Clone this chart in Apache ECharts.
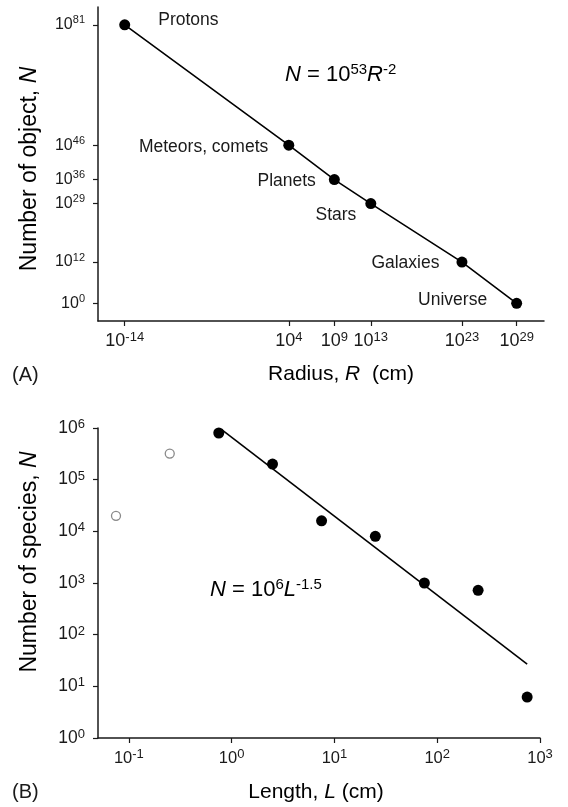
<!DOCTYPE html>
<html>
<head>
<meta charset="utf-8">
<script src="https://cdn.jsdelivr.net/npm/echarts@6/dist/echarts.min.js"></script>
<style>
  html, body { margin: 0; padding: 0; background: #fff; }
  #chart { width: 568px; height: 807px; }
</style>
</head>
<body>
<div id="chart"></div>
<script>
// panel A: objects in the universe
const objectNames = ['Protons', 'Meteors, comets', 'Planets', 'Stars', 'Galaxies', 'Universe'];
const radiusCm = [1e-14, 1e4, 1e9, 1e13, 1e23, 1e29];
const objectCount = [1e81, 1e46, 1e36, 1e29, 1e12, 1e0];
const radiusTicks = [-14, 4, 9, 13, 23, 29];   // exponents shown on the axis
const countTicks = [0, 12, 29, 36, 46, 81];

// panel B: species by body length
const lengthFilled = [0.75, 2.5, 7.5, 25, 75, 250, 750];
const speciesFilled = [8.0e5, 2.0e5, 1.6e4, 8.0e3, 1.0e3, 7.2e2, 6.2];
const lengthOpen = [0.075, 0.25];
const speciesOpen = [2.0e4, 3.2e5];
const fitLength = [0.8, 750];
const fitSpecies = [9.3e5, 27];
const lengthTicks = [-1, 0, 1, 2, 3];
const speciesTicks = [0, 1, 2, 3, 4, 5, 6];

// label placement for panel A (style, not data)
const labelPos = ['right', 'left', 'left', 'left', 'left', 'left'];
const labelOffsets = [[23, -5], [-10, 2], [-8, 2], [-4, 12], [-12, 1], [-19, -3]];

const FONT = '"Liberation Sans", Arial, Helvetica, sans-serif';
const INK = '#1a1a1a';

const log = Math.log10;
const pow10 = v => '{b|10}{s|' + v + '}';

function powRich(baseSize, supSize) {
  return {
    b: {fontSize: baseSize, fontFamily: FONT, color: INK, lineHeight: 20},
    s: {fontSize: supSize, fontFamily: FONT, color: INK, lineHeight: supSize, verticalAlign: 'top'}
  };
}

function axisBase(ticks, rich, margin) {
  return {
    type: 'value',
    splitLine: {show: false},
    axisLine: {onZero: false, lineStyle: {color: INK, width: 1.5}},
    axisTick: {customValues: ticks, length: 5, lineStyle: {color: INK, width: 1.2}},
    axisLabel: {customValues: ticks, formatter: pow10, rich: rich, margin: margin}
  };
}

const pointsA = radiusCm.map((r, i) => ({
  value: [log(r), log(objectCount[i])],
  label: {show: true, formatter: objectNames[i], position: labelPos[i], offset: labelOffsets[i]}
}));

const textRich = (size) => ({
  n: {fontSize: size, fontFamily: FONT, color: INK},
  i: {fontSize: size, fontFamily: FONT, color: INK, fontStyle: 'italic'}
});

const eqRich = (size, sup) => ({
  n: {fontSize: size, fontFamily: FONT, color: INK, lineHeight: 26},
  i: {fontSize: size, fontFamily: FONT, color: INK, fontStyle: 'italic', lineHeight: 26},
  s: {fontSize: sup, fontFamily: FONT, color: INK, lineHeight: sup, verticalAlign: 'top'}
});

const chart = echarts.init(document.getElementById('chart'));

chart.setOption({
  animation: false,
  backgroundColor: '#fff',
  grid: [
    {left: 98, right: 24, top: 7, bottom: 486},
    {left: 98, right: 28, top: 428, bottom: 69}
  ],
  xAxis: [
    Object.assign(axisBase(radiusTicks, powRich(18, 13), 10), {gridIndex: 0, min: -16.93, max: 32.0}),
    Object.assign(axisBase(lengthTicks, powRich(16.5, 13), 10), {gridIndex: 1, min: -1.3, max: 3})
  ],
  yAxis: [
    Object.assign(axisBase(countTicks, powRich(16, 11), 13), {gridIndex: 0, min: -5.15, max: 86.2}),
    Object.assign(axisBase(speciesTicks, powRich(17.5, 13), 13), {gridIndex: 1, min: 0, max: 6})
  ],
  series: [
    {
      type: 'line', xAxisIndex: 0, yAxisIndex: 0,
      data: pointsA,
      symbol: 'circle', symbolSize: 11,
      itemStyle: {color: '#000'},
      lineStyle: {color: '#000', width: 1.6},
      label: {fontSize: 17.5, fontFamily: FONT, color: INK},
      z: 3
    },
    {
      type: 'line', xAxisIndex: 1, yAxisIndex: 1,
      data: fitLength.map((l, i) => [log(l), log(fitSpecies[i])]),
      symbol: 'none',
      lineStyle: {color: '#000', width: 1.6},
      z: 2
    },
    {
      type: 'scatter', xAxisIndex: 1, yAxisIndex: 1,
      data: lengthFilled.map((l, i) => [log(l), log(speciesFilled[i])]),
      symbol: 'circle', symbolSize: 11,
      itemStyle: {color: '#000', opacity: 1},
      z: 3
    },
    {
      type: 'scatter', xAxisIndex: 1, yAxisIndex: 1,
      data: lengthOpen.map((l, i) => [log(l), log(speciesOpen[i])]),
      symbol: 'circle', symbolSize: 9,
      itemStyle: {color: '#fff', borderColor: '#8a8a8a', borderWidth: 1.3, opacity: 1},
      z: 3
    }
  ],
  graphic: [
    {type: 'text', x: 30, y: 169, rotation: Math.PI / 2,
     style: {text: '{n|Number of object, }{i|N}', rich: textRich(23), align: 'center', verticalAlign: 'middle'}},
    {type: 'text', x: 341, y: 374,
     style: {text: '{n|Radius, }{i|R}{n|  (cm)}', rich: textRich(21), align: 'center', verticalAlign: 'middle'}},
    {type: 'text', x: 12, y: 375,
     style: {text: '(A)', fontSize: 20, fontFamily: FONT, fill: INK, align: 'left', verticalAlign: 'middle'}},
    {type: 'text', x: 285, y: 75,
     style: {text: '{i|N}{n| = 10}{s|53}{i|R}{s|-2}', rich: eqRich(22, 15), align: 'left', verticalAlign: 'middle'}},
    {type: 'text', x: 30, y: 562, rotation: Math.PI / 2,
     style: {text: '{n|Number of species, }{i|N}', rich: textRich(23), align: 'center', verticalAlign: 'middle'}},
    {type: 'text', x: 316, y: 792,
     style: {text: '{n|Length, }{i|L}{n| (cm)}', rich: textRich(21), align: 'center', verticalAlign: 'middle'}},
    {type: 'text', x: 12, y: 792,
     style: {text: '(B)', fontSize: 20, fontFamily: FONT, fill: INK, align: 'left', verticalAlign: 'middle'}},
    {type: 'text', x: 210, y: 590,
     style: {text: '{i|N}{n| = 10}{s|6}{i|L}{s|-1.5}', rich: eqRich(22, 15), align: 'left', verticalAlign: 'middle'}}
  ]
});
</script>
</body>
</html>
